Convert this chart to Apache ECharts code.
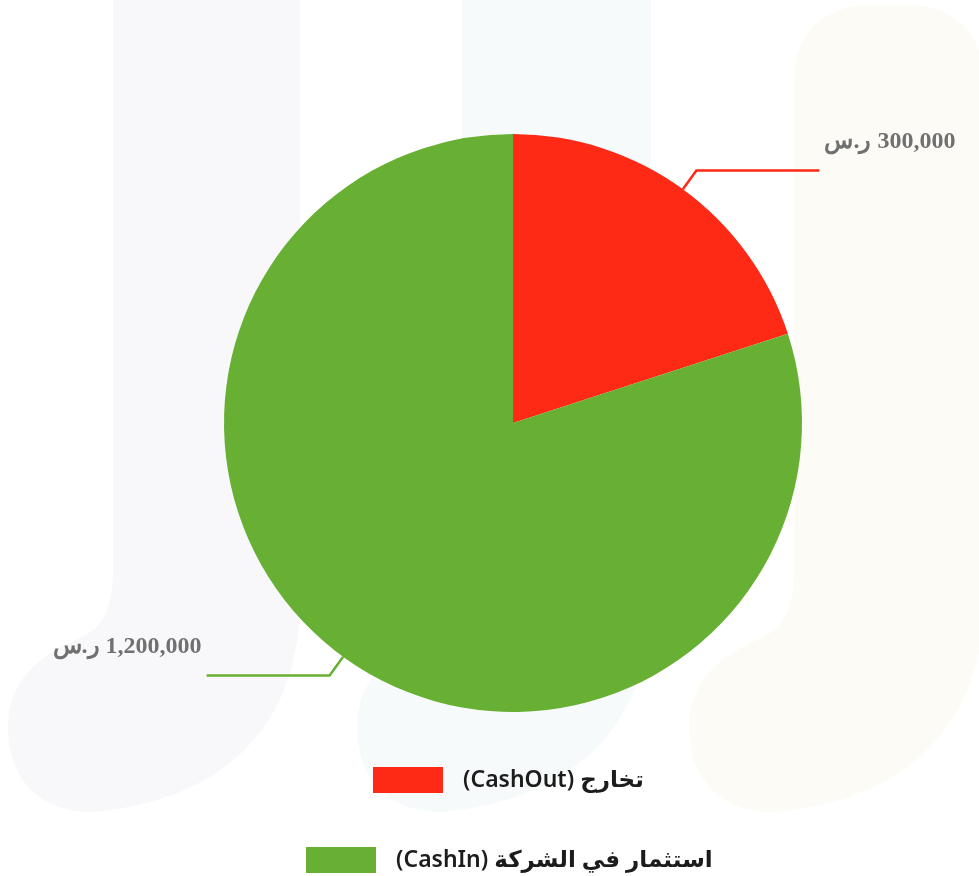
<!DOCTYPE html>
<html>
<head>
<meta charset="utf-8">
<script src="https://cdn.jsdelivr.net/npm/echarts@6/dist/echarts.min.js"></script>
<style>
  html, body { margin: 0; padding: 0; background: #ffffff; }
  #chart { width: 979px; height: 876px; }
</style>
</head>
<body>
<div id="chart" dir="rtl"></div>
<script>
// Slice names, amounts and colours
const categories = ['تخارج (CashOut)', 'استثمار في الشركة (CashIn)'];
const values = [300000, 1200000];
const currency = 'ر.س';
const sliceColors = ['#fe2a16', '#67b033'];

// Soft "J" shaped backdrop shapes (decoration only)
function jPath(L, w, top, rounded) {
  const p = (x, y) => (L + x) + ' ' + y;
  let d;
  if (rounded) {
    d = 'M' + p(0, top + 75) + ' C' + p(0, top + 30) + ' ' + p(30, top) + ' ' + p(75, top) +
        ' L' + p(w - 75, top) + ' C' + p(w - 30, top) + ' ' + p(w, top + 30) + ' ' + p(w, top + 75);
  } else {
    d = 'M' + p(0, top) + ' L' + p(w, top);
  }
  d += ' L' + p(w, 600) +
       ' C' + p(w, 720) + ' ' + p(117, 800) + ' ' + p(-20, 812) +
       ' C' + p(-73, 812) + ' ' + p(-105, 780) + ' ' + p(-105, 727) +
       ' C' + p(-105, 680) + ' ' + p(-73, 655) + ' ' + p(-33, 638) +
       ' C' + p(-8, 627) + ' ' + p(0, 605) + ' ' + p(0, 570) + ' Z';
  return d;
}

const backdrop = [
  { d: jPath(113, 187, -50, false), fill: '#f8f8fa' },
  { d: jPath(462, 189, -50, false), fill: '#f7fafb' },
  { d: jPath(794, 190, 5, true), fill: '#fcfbf6' }
];

const chart = echarts.init(document.getElementById('chart'), null, { renderer: 'canvas' });

const legendText = {
  fontFamily: "'Noto Sans', 'DejaVu Sans', sans-serif",
  fontSize: 23,
  fontWeight: 600,
  color: '#1c1c1c',
  padding: [0, 0, 0, 15]
};

const valueFont = {
  fontFamily: "'Liberation Serif', 'Times New Roman', serif",
  fontWeight: 'bold',
  fontSize: 24,
  color: '#707070',
  lineHeight: 30
};

chart.setOption({
  animation: false,
  backgroundColor: '#ffffff',
  legend: [
    {
      data: [categories[0]],
      left: 368,
      top: 762,
      icon: 'rect',
      itemWidth: 70,
      itemHeight: 26,
      selectedMode: false,
      textStyle: legendText
    },
    {
      data: [categories[1]],
      left: 301,
      top: 842,
      icon: 'rect',
      itemWidth: 70,
      itemHeight: 26,
      selectedMode: false,
      textStyle: legendText
    }
  ],
  series: [
    {
      type: 'custom',
      coordinateSystem: 'none',
      silent: true,
      z: 0,
      data: [0],
      renderItem: function () {
        return {
          type: 'group',
          children: backdrop.map(b => ({
            type: 'path',
            shape: { pathData: b.d },
            style: { fill: b.fill }
          }))
        };
      }
    },
    {
      type: 'pie',
      z: 2,
      center: [513, 423],
      radius: 289,
      startAngle: 90,
      clockwise: true,
      avoidLabelOverlap: false,
      emphasis: { disabled: true },
      data: categories.map((name, i) => ({
        name: name,
        value: values[i],
        itemStyle: { color: sliceColors[i] }
      })),
      label: {
        show: true,
        position: 'outside',
        formatter: p => '{v|' + p.value.toLocaleString('en-US') + ' ' + currency + '}\n{gap|}',
        rich: {
          v: valueFont,
          gap: { height: 58, lineHeight: 58 }
        }
      },
      labelLine: {
        show: true,
        length: 23,
        length2: 123,
        lineStyle: { width: 2.5 }
      }
    }
  ]
});
</script>
</body>
</html>
